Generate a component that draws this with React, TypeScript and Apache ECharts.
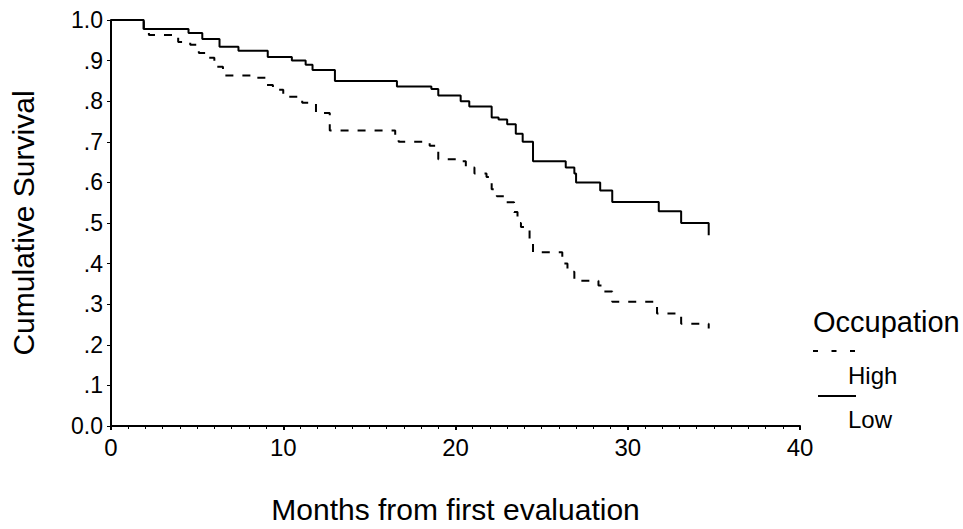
import React, { useEffect, useRef } from "react";
import * as echarts from "echarts";

const lowMonths = [0, 1.9, 4.5, 5.3, 6.3, 7.4, 9.1, 10.5, 11.3, 11.7, 13.0, 16.6, 18.6, 19.0, 20.3, 20.8, 22.1, 22.5, 23.0, 23.5, 23.9, 24.5, 26.4, 26.9, 27.0, 28.4, 29.1, 31.8, 33.1, 34.7];
const lowSurvival = [1.0, 0.978, 0.968, 0.953, 0.934, 0.924, 0.909, 0.9, 0.89, 0.877, 0.85, 0.836, 0.83, 0.814, 0.8, 0.787, 0.76, 0.755, 0.743, 0.72, 0.7, 0.652, 0.637, 0.622, 0.6, 0.58, 0.552, 0.529, 0.5, 0.47];

const highMonths = [0, 1.9, 2.2, 3.6, 3.9, 4.6, 5.1, 5.6, 6.0, 6.5, 8.2, 9.0, 9.4, 10.0, 11.1, 11.9, 12.7, 16.5, 16.7, 18.5, 19.0, 20.2, 20.6, 21.1, 21.8, 22.1, 22.4, 22.9, 23.4, 23.6, 23.8, 24.3, 24.5, 26.2, 26.5, 26.9, 28.3, 28.5, 29.1, 31.7, 33.1, 34.7];
const highSurvival = [1.0, 0.97, 0.963, 0.958, 0.946, 0.939, 0.919, 0.907, 0.885, 0.863, 0.858, 0.84, 0.828, 0.811, 0.796, 0.771, 0.728, 0.706, 0.7, 0.69, 0.657, 0.652, 0.637, 0.622, 0.613, 0.583, 0.566, 0.551, 0.527, 0.5, 0.49, 0.449, 0.428, 0.4, 0.38, 0.358, 0.346, 0.331, 0.306, 0.277, 0.252, 0.24];

const yTickLabels = ["0.0", ".1", ".2", ".3", ".4", ".5", ".6", ".7", ".8", ".9", "1.0"];
const xTickLabels = ["0", "10", "20", "30", "40"];

const groupNames = ["High", "Low"];
const legendTitle = "Occupation";
const xTitle = "Months from first evaluation";
const yTitle = "Cumulative Survival";

const FONT = '"Liberation Sans", Arial, sans-serif';

export default function App() {
  const ref = useRef<HTMLDivElement>(null);
  useEffect(() => {
    document.body.style.margin = "0";
    const chart = echarts.init(ref.current!, null, { renderer: "svg" });
    const high = highMonths.map((m, i) => [m, highSurvival[i]]);
    const low = lowMonths.map((m, i) => [m, lowSurvival[i]]);
    chart.setOption({
      animation: false,
      backgroundColor: "#ffffff",
      textStyle: { fontFamily: FONT, color: "#000" },
      grid: { left: 103, top: 20, width: 697, height: 408 },
      xAxis: {
        type: "value",
        min: 0,
        max: 40,
        interval: 10,
        name: xTitle,
        nameLocation: "middle",
        nameGap: 68,
        nameTextStyle: { fontSize: 30, color: "#000", fontFamily: FONT },
        axisLine: { show: true, lineStyle: { color: "#000", width: 2 } },
        axisTick: { show: true, length: 4, lineStyle: { color: "#000", width: 2 } },
        minorTick: { show: true, splitNumber: 10, length: 3, lineStyle: { color: "#000", width: 1 } },
        splitLine: { show: false },
        axisLabel: {
          margin: 9,
          fontSize: 24,
          color: "#000",
          fontFamily: FONT,
          formatter: (v: number) => xTickLabels[Math.round(v / 10)] ?? "",
        },
      },
      yAxis: {
        type: "value",
        min: 0,
        max: 1,
        interval: 0.1,
        name: yTitle,
        nameLocation: "middle",
        nameGap: 73,
        nameRotate: 90,
        nameTextStyle: { fontSize: 30, color: "#000", fontFamily: FONT },
        axisLine: { show: true, lineStyle: { color: "#000", width: 2 } },
        axisTick: { show: true, length: 4, lineStyle: { color: "#000", width: 1 } },
        splitLine: { show: false },
        axisLabel: {
          margin: 8,
          fontSize: 23,
          color: "#000",
          fontFamily: FONT,
          formatter: (v: number) => yTickLabels[Math.round(v * 10)] ?? "",
        },
      },
      series: [
        {
          name: groupNames[0],
          type: "line",
          step: "end",
          data: high,
          showSymbol: false,
          lineStyle: { color: "#000", width: 2, type: [8, 9] },
        },
        {
          name: groupNames[1],
          type: "line",
          step: "end",
          data: low,
          showSymbol: false,
          lineStyle: { color: "#000", width: 2, type: "solid" },
        },
      ],
      graphic: [
        {
          type: "text",
          left: 813,
          top: 307,
          style: { text: legendTitle, fontSize: 29, fill: "#000", fontFamily: FONT },
        },
        {
          type: "line",
          shape: { x1: 813, y1: 351, x2: 856, y2: 351 },
          style: { stroke: "#000", lineWidth: 2, lineDash: [5, 13.5] },
        },
        {
          type: "text",
          left: 848,
          top: 363,
          style: { text: groupNames[0], fontSize: 24, fill: "#000", fontFamily: FONT },
        },
        {
          type: "line",
          shape: { x1: 818, y1: 396, x2: 856, y2: 396 },
          style: { stroke: "#000", lineWidth: 2 },
        },
        {
          type: "text",
          left: 848,
          top: 407,
          style: { text: groupNames[1], fontSize: 24, fill: "#000", fontFamily: FONT },
        },
      ],
    });
    return () => chart.dispose();
  }, []);
  return <div ref={ref} style={{ width: 963, height: 529 }} />;
}
